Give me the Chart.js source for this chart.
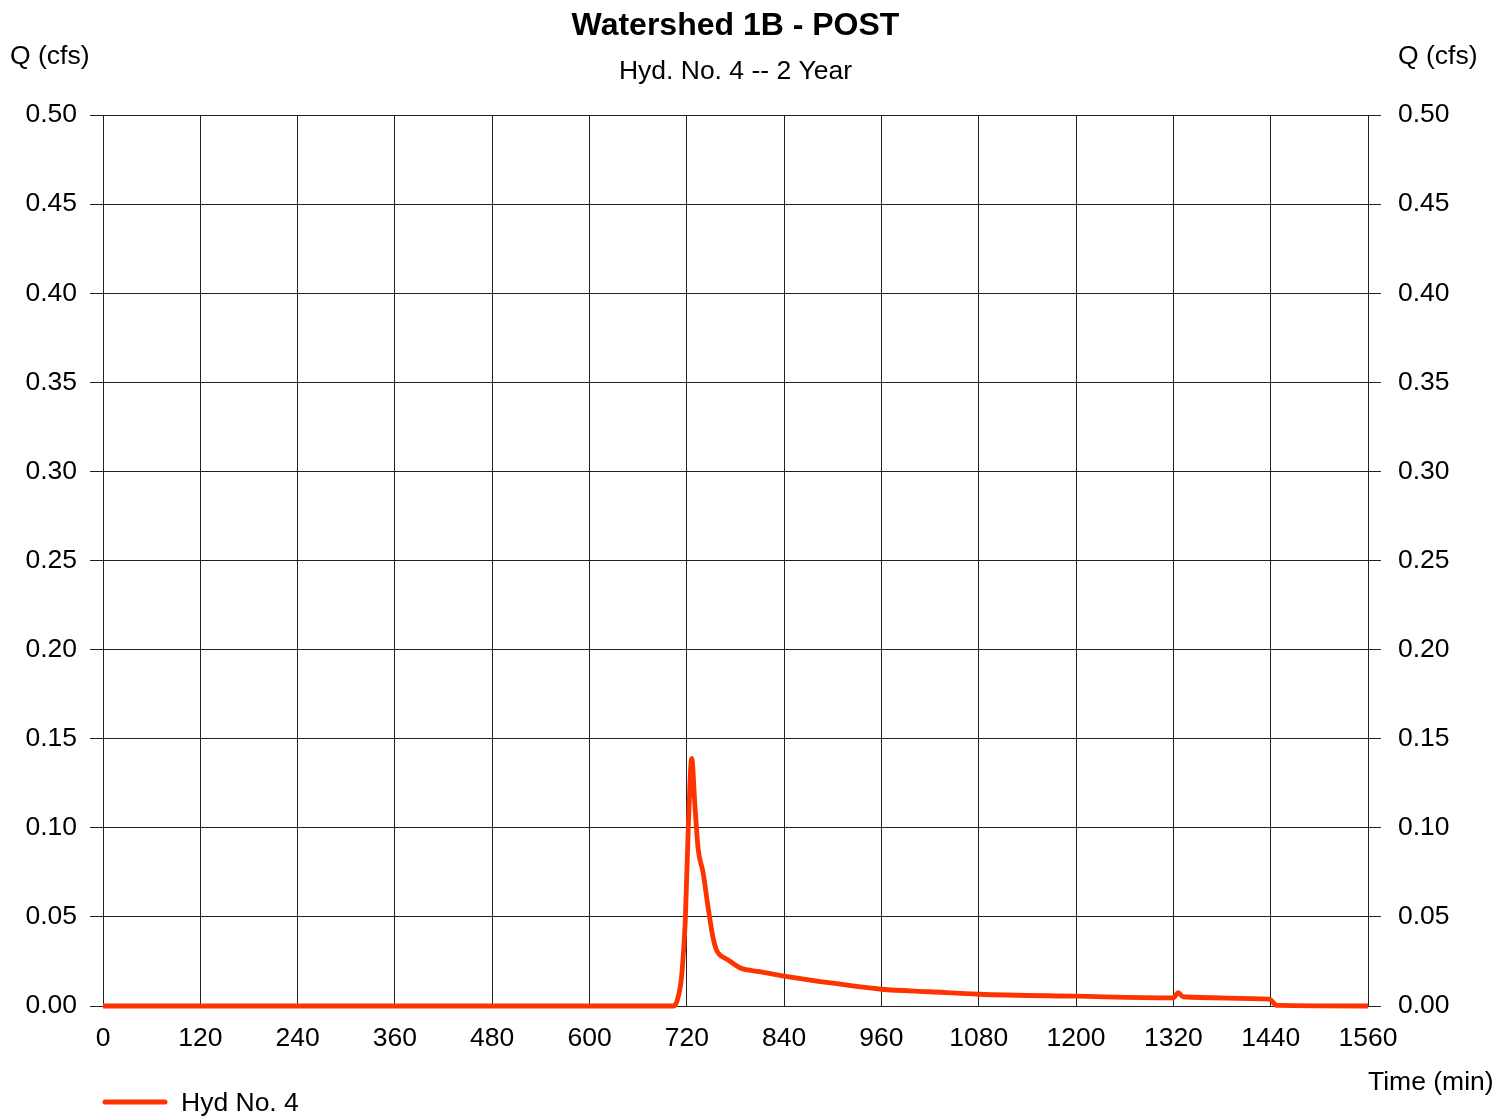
<!DOCTYPE html>
<html>
<head>
<meta charset="utf-8">
<script src="https://cdn.jsdelivr.net/npm/chart.js@4"></script>
<style>
  html, body { margin: 0; padding: 0; background: #fff; }
  #wrap { width: 1510px; height: 1116px; }
</style>
</head>
<body>
<div id="wrap"><canvas id="ctx" width="1510" height="1116"></canvas></div>
<script>
// hydrograph values
const timeMin = [0, 704, 708, 712, 714, 718, 722, 726, 730, 734, 740, 746, 752, 756, 760, 771, 786, 810, 840, 900, 960, 1020, 1080, 1200, 1320, 1326, 1332, 1438, 1448, 1560];
const flowCfs = [0, 0, 0.003, 0.011, 0.019, 0.047, 0.103, 0.139, 0.112, 0.088, 0.075, 0.056, 0.039, 0.032, 0.029, 0.0258, 0.0213, 0.0193, 0.0168, 0.0128, 0.0094, 0.008, 0.0066, 0.0055, 0.0046, 0.0075, 0.0052, 0.0038, 0.0003, 0];

const titleText = "Watershed 1B - POST";
const subtitleText = "Hyd. No. 4 -- 2 Year";
const yLabel = "Q (cfs)";
const xLabel = "Time (min)";
const seriesName = "Hyd No. 4";

const lineColor = "#ff3300";
const gridColor = "#222";
const font = "'Liberation Sans', Arial, sans-serif";
const textSize = 26.5;

//Draws titles, axis captions and the legend as canvas text
const textPlugin = {
  id: "texts",
  afterDraw(chart) {
    const c = chart.ctx;
    const mid = (chart.chartArea.left + chart.chartArea.right) / 2;
    c.save();
    c.fillStyle = "#000";
    c.textBaseline = "middle";
    c.textAlign = "center";
    c.font = "bold 32px " + font;
    c.fillText(titleText, mid, 26);
    c.font = textSize + "px " + font;
    c.fillText(subtitleText, mid, 71.5);
    c.textAlign = "left";
    c.fillText(yLabel, 10, 56.5);
    c.fillText(yLabel, 1398, 56.5);
    c.fillText(xLabel, 1368, 1082.5);
    c.fillText(seriesName, 181, 1104);
    // legend sample line
    c.strokeStyle = lineColor;
    c.lineWidth = 5;
    c.lineCap = "round";
    c.beginPath();
    c.moveTo(105, 1102);
    c.lineTo(165, 1102);
    c.stroke();
    c.restore();
  },
};

const yTicks = {
  color: "#000",
  font: { size: textSize, family: font },
  callback: (v) => Number(v).toFixed(2),
  stepSize: 0.05,
};

new Chart(document.getElementById("ctx").getContext("2d"), {
  type: "line",
  data: {
    datasets: [
      {
        label: seriesName,
        data: timeMin.map((t, i) => ({ x: t, y: flowCfs[i] })),
        borderColor: lineColor,
        borderWidth: 4.8,
        pointRadius: 0,
        cubicInterpolationMode: "monotone",
        fill: false,
        clip: 6,
        yAxisID: "y",
      },
    ],
  },
  options: {
    responsive: false,
    animation: false,
    layout: { padding: { top: 115, left: 0, right: 0, bottom: 0 } },
    plugins: {
      legend: { display: false },
      title: { display: false },
      tooltip: { enabled: false },
    },
    scales: {
      x: {
        type: "linear",
        min: 0,
        max: 1560,
        border: { color: gridColor, width: 1 },
        grid: { color: gridColor, lineWidth: 1, drawTicks: false },
        ticks: {
          stepSize: 120,
          color: "#000",
          font: { size: textSize, family: font },
          padding: 17,
          maxRotation: 0,
          autoSkip: false,
          callback: (v) => String(v),
        },
        afterFit: (s) => { s.height = 110; },
      },
      y: {
        position: "left",
        min: 0,
        max: 0.5,
        border: { color: gridColor, width: 1 },
        grid: { color: gridColor, lineWidth: 1, tickLength: 13 },
        ticks: { ...yTicks, padding: 13 },
        afterFit: (s) => { s.width = 103; },
      },
      y2: {
        position: "right",
        min: 0,
        max: 0.5,
        border: { color: gridColor, width: 1 },
        grid: { drawOnChartArea: false, color: gridColor, lineWidth: 1, tickLength: 13 },
        ticks: { ...yTicks, padding: 17 },
        afterFit: (s) => { s.width = 142; },
      },
    },
  },
  plugins: [textPlugin],
});
</script>
</body>
</html>
